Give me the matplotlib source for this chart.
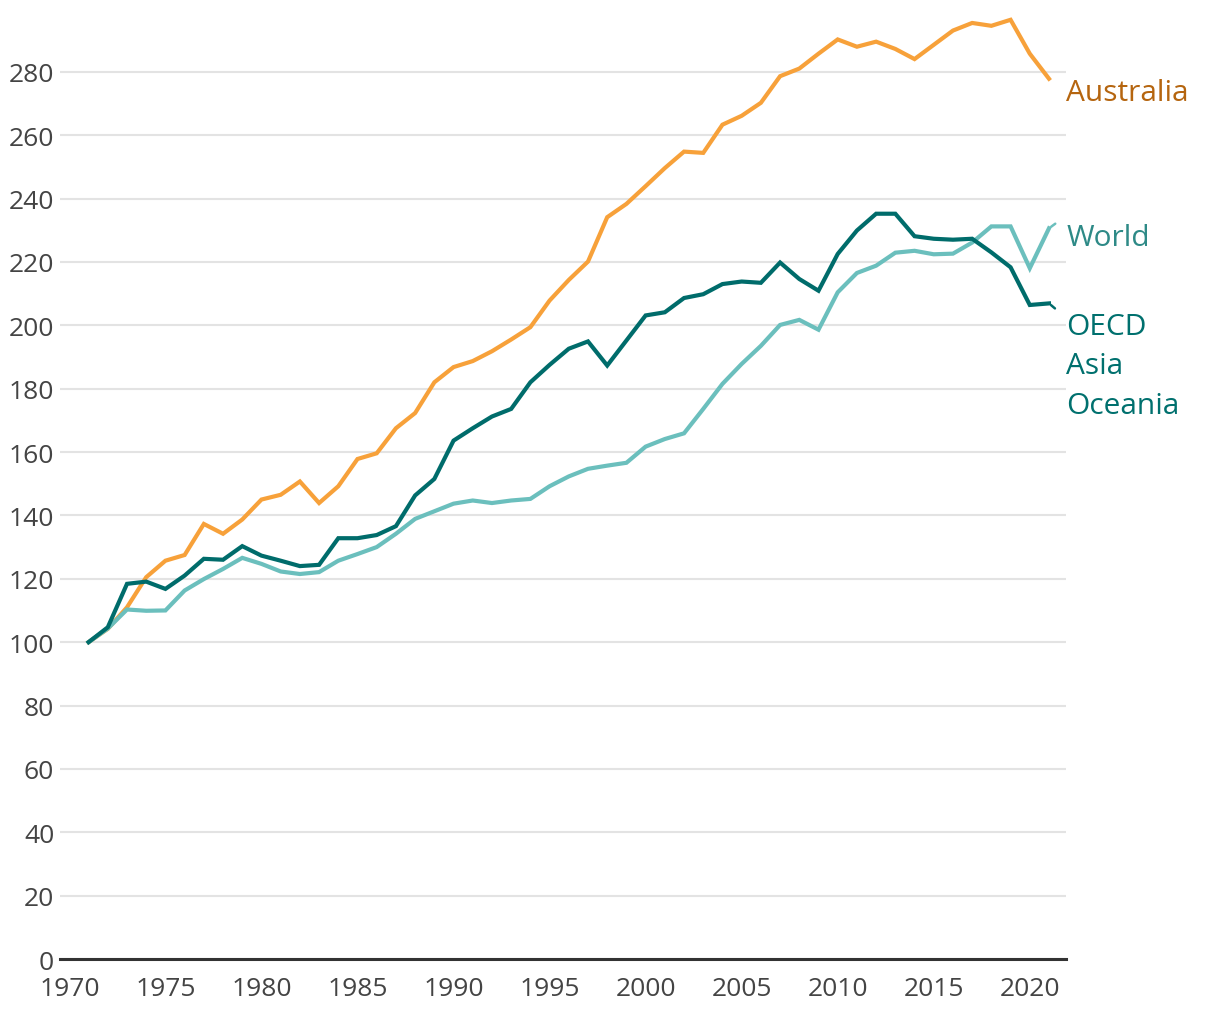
import matplotlib
matplotlib.use("Agg")
import matplotlib.pyplot as plt

years = list(range(1971, 2022))

australia = [100, 104.2, 111, 120.5, 125.7, 127.5, 137.3, 134.2, 138.7, 145,
             146.5, 150.7, 143.9, 149.2, 157.8, 159.6, 167.5, 172.3, 182, 186.8,
             188.7, 191.8, 195.5, 199.4, 207.8, 214.3, 220.1, 234.1, 238.3, 243.9,
             249.6, 254.8, 254.4, 263.3, 266.1, 270.2, 278.6, 281, 285.7, 290.2,
             287.9, 289.5, 287.2, 284, 288.5, 293, 295.4, 294.5, 296.4, 285.7, 277.8]

oecd_aso = [100, 104.7, 118.4, 119.1, 116.8, 121, 126.3, 126, 130.3, 127.3,
            125.7, 124, 124.4, 132.8, 132.8, 133.8, 136.6, 146.3, 151.5, 163.6,
            167.5, 171.2, 173.6, 182, 187.5, 192.6, 194.9, 187.3, 195.2, 203.1,
            204.1, 208.6, 209.8, 213, 213.8, 213.4, 219.8, 214.6, 210.9, 222.5,
            229.9, 235.2, 235.2, 228.1, 227.3, 227, 227.3, 223, 218.3, 206.4, 206.9]

world = [100, 104.3, 110.3, 109.9, 110, 116.3, 119.9, 123.1, 126.6, 124.7,
         122.3, 121.5, 122.1, 125.7, 127.8, 130, 134.2, 138.9, 141.3, 143.7,
         144.7, 143.9, 144.7, 145.2, 149.2, 152.3, 154.7, 155.7, 156.6, 161.7,
         164.1, 165.9, 173.6, 181.5, 187.8, 193.5, 200.1, 201.7, 198.6, 210.4,
         216.5, 218.8, 222.9, 223.5, 222.4, 222.6, 226.1, 231.2, 231.2, 218, 230.6]

yticks = list(range(0, 281, 20))
xticks = list(range(1970, 2021, 5))

series_labels = ["Australia", "World", "OECD\nAsia\nOceania"]

plt.rcParams['font.family'] = ['Open Sans', 'DejaVu Sans']

fig = plt.figure(figsize=(12.2, 10.2), dpi=100)
ax = fig.add_axes([0.049, 0.0588, 0.825, 0.932])

c_aus = "#f7a13a"
c_world = "#6bbfbd"
c_oecd = "#006c6b"

ax.plot(years, australia, color=c_aus, lw=3, solid_joinstyle='miter', zorder=3)
ax.plot(years, world, color=c_world, lw=3, solid_joinstyle='miter', zorder=3)
ax.plot(years, oecd_aso, color=c_oecd, lw=3, solid_joinstyle='miter', zorder=4)

ax.set_xlim(1969.5, 2021.9)
ax.set_ylim(0, 300)
ax.set_yticks(yticks)
ax.set_xticks(xticks)
ax.grid(axis='y', color='#e3e3e3', lw=1.5)
ax.set_axisbelow(True)
for s in ['top', 'right', 'left']:
    ax.spines[s].set_visible(False)
ax.spines['bottom'].set_color('#333333')
ax.spines['bottom'].set_linewidth(2.2)
ax.tick_params(axis='both', length=0, labelsize=19, colors='#444444')
ax.tick_params(axis='y', pad=4)
ax.tick_params(axis='x', pad=12)

# leader lines
ax.annotate("", xy=(years[-1] + 0.45, world[-1] + 2.0), xytext=(years[-1], world[-1]),
            arrowprops=dict(arrowstyle='-', color=c_world, lw=1.8, ls=(0, (2, 2))))
ax.annotate("", xy=(years[-1] + 0.45, oecd_aso[-1] - 2.3), xytext=(years[-1], oecd_aso[-1]),
            arrowprops=dict(arrowstyle='-', color=c_oecd, lw=1.8, ls=(0, (2, 2))))

ax.text(2021.9, 273.3, series_labels[0], color="#b5650f", fontsize=21.5,
        va='center', ha='left', clip_on=False)
ax.text(2021.9, 227.8, series_labels[1], color="#2e8a87", fontsize=21.5,
        va='center', ha='left', clip_on=False)
ax.text(2021.9, 204.2, series_labels[2], color="#00706e", fontsize=21.5,
        va='top', ha='left', linespacing=1.47, clip_on=False)

fig.savefig("out.png", dpi=100)
